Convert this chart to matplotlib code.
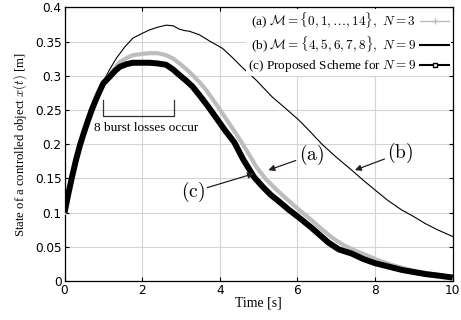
import matplotlib
matplotlib.use("Agg")
import matplotlib.pyplot as plt
from matplotlib.lines import Line2D

plt.rcParams['mathtext.fontset'] = 'cm'

# Common rise (all schemes identical before bursts start)
t_rise = [0.0, 0.1, 0.2, 0.3, 0.4, 0.5, 0.6, 0.7, 0.8, 0.9]
x_rise = [0.100, 0.128, 0.154, 0.178, 0.199, 0.217, 0.234, 0.250, 0.264, 0.277]

# (c) Proposed scheme
t_c = [1.0, 1.17, 1.3, 1.42, 1.6, 1.76, 2.0, 2.19, 2.4, 2.62, 2.8, 2.96, 3.13, 3.3, 3.47,
       3.7, 3.95, 4.15, 4.37, 4.6, 4.88, 5.1, 5.31, 5.55, 5.78, 6.1, 6.38, 6.6, 6.8, 7.07,
       7.4, 7.7, 8.0, 8.35, 8.7, 9.0, 9.3, 9.6, 10.0]
x_c = [0.289, 0.299, 0.307, 0.313, 0.317, 0.319, 0.319, 0.319, 0.318, 0.316, 0.309, 0.301,
       0.293, 0.284, 0.272, 0.255, 0.235, 0.219, 0.203, 0.178, 0.152, 0.138, 0.126, 0.115,
       0.104, 0.090, 0.077, 0.066, 0.056, 0.046, 0.040, 0.032, 0.026, 0.021, 0.016, 0.013,
       0.010, 0.008, 0.005]

# (a) M = {0,...,14}, N = 3
t_a = [1.0, 1.17, 1.42, 1.6, 1.76, 2.0, 2.19, 2.4, 2.62, 2.8, 2.96, 3.13, 3.3, 3.47, 3.65,
       3.9, 4.15, 4.4, 4.7, 4.95, 5.2, 5.45, 5.7, 6.0, 6.3, 6.6, 6.9, 7.2, 7.5, 7.8, 8.1,
       8.4, 8.7, 9.0, 9.3, 9.6, 10.0]
x_a = [0.290, 0.302, 0.320, 0.326, 0.330, 0.332, 0.333, 0.333, 0.330, 0.325, 0.318, 0.310,
       0.301, 0.291, 0.279, 0.259, 0.238, 0.217, 0.190, 0.166, 0.148, 0.134, 0.121, 0.106,
       0.092, 0.077, 0.063, 0.052, 0.044, 0.037, 0.030, 0.024, 0.019, 0.015, 0.012, 0.009,
       0.006]

# (b) M = {4,...,8}, N = 9
t_b = [1.0, 1.17, 1.34, 1.55, 1.76, 2.0, 2.19, 2.4, 2.62, 2.8, 2.96, 3.1, 3.22, 3.47, 3.73,
       4.07, 4.3, 4.6, 4.93, 5.35, 5.7, 6.04, 6.3, 6.63, 7.0, 7.4, 7.7, 8.0, 8.3, 8.68, 9.0,
       9.29, 9.6, 10.0]
x_b = [0.292, 0.310, 0.326, 0.342, 0.355, 0.362, 0.367, 0.371, 0.374, 0.373, 0.368, 0.366,
       0.365, 0.360, 0.351, 0.340, 0.328, 0.311, 0.294, 0.269, 0.252, 0.235, 0.220, 0.200,
       0.181, 0.162, 0.147, 0.133, 0.119, 0.104, 0.094, 0.084, 0.075, 0.065]

labels = [r'(a) $\mathcal{M}=\{0,1,\ldots,14\},\ N=3$',
          r'(b) $\mathcal{M}=\{4,5,6,7,8\},\ N=9$',
          r'(c) Proposed Scheme for $N=9$']

xticks = [0, 2, 4, 6, 8, 10]
yticks = [0, 0.05, 0.1, 0.15, 0.2, 0.25, 0.3, 0.35, 0.4]
ytick_labels = ['0', '0.05', '0.1', '0.15', '0.2', '0.25', '0.3', '0.35', '0.4']

fig = plt.figure(figsize=(4.61, 3.2), dpi=100)
ax = fig.add_axes([0.140, 0.122, 0.842, 0.855])

ax.plot(t_rise + t_b, x_rise + x_b, color='black', lw=0.8, zorder=3)
ax.plot(t_rise + t_a, x_rise + x_a, color='#bdbdbd', lw=3.0, zorder=4)
ax.plot(t_rise + t_c, x_rise + x_c, color='black', lw=4.3, zorder=5,
        solid_capstyle='butt')

ax.set_xlim(0, 10)
ax.set_ylim(0, 0.4)
ax.set_xticks(xticks)
ax.set_yticks(yticks)
ax.set_yticklabels(ytick_labels)
ax.grid(True, color='#d4d4d4', lw=0.8)
ax.set_axisbelow(True)
ax.tick_params(direction='in', top=True, right=True, length=3, width=0.8,
               labelsize=8.7, pad=2)
for lab in ax.get_xticklabels() + ax.get_yticklabels():
    lab.set_fontfamily('DejaVu Sans')
for s in ax.spines.values():
    s.set_linewidth(0.9)

serif = 'Liberation Serif'
ax.set_xlabel('Time [s]', fontsize=10, family=serif, labelpad=0)
ax.set_ylabel(r'State of a controlled object $x(t)$ [m]', fontsize=9.2, family=serif,
              labelpad=4)

# burst bracket
ax.plot([1.0, 1.0, 2.83, 2.83], [0.265, 0.241, 0.241, 0.265], color='#333333', lw=0.9,
        zorder=6)
ax.text(2.1, 0.2235, '8 burst losses occur', fontsize=9.5, family=serif,
        ha='center', va='center', zorder=6)

arrow = dict(arrowstyle='-|>', color='#2a1c1c', lw=0.9, mutation_scale=9,
             shrinkA=0, shrinkB=0)
ax.annotate(r'$\mathrm{(a)}$', xy=(5.25, 0.162), xytext=(6.35, 0.184), fontsize=14,
            ha='center', va='center', arrowprops=arrow, zorder=7)
ax.annotate(r'$\mathrm{(b)}$', xy=(7.48, 0.162), xytext=(8.65, 0.187), fontsize=14,
            ha='center', va='center', arrowprops=arrow, zorder=7)
ax.annotate(r'$\mathrm{(c)}$', xy=(4.88, 0.157), xytext=(3.3, 0.13), fontsize=14,
            ha='center', va='center', arrowprops=arrow, zorder=7)

handles = [Line2D([], [], color='#bdbdbd', lw=1.0, marker='+', markersize=4),
           Line2D([], [], color='black', lw=1.5),
           Line2D([], [], color='black', lw=1.5, marker='s', markersize=3.5,
                  markerfacecolor='white', markeredgewidth=1.0)]
leg = ax.legend(handles, labels, loc='upper right', markerfirst=False,
                prop={'family': serif, 'size': 9.5}, frameon=True, fancybox=False,
                handlelength=2.2, handletextpad=0.3, labelspacing=0.3,
                borderaxespad=0.1, borderpad=0.15)
leg.get_frame().set_edgecolor('none')
leg.get_frame().set_facecolor('white')
leg.get_frame().set_alpha(1)
leg.set_zorder(10)

fig.savefig('out.png', dpi=100)
